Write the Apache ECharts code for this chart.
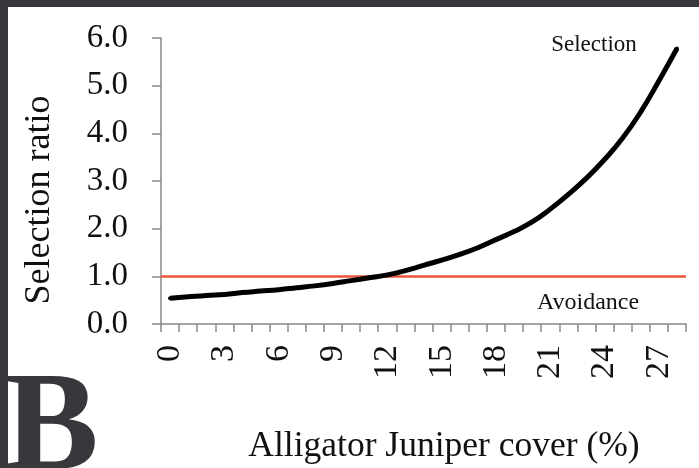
<!DOCTYPE html>
<html>
<head>
<meta charset="utf-8">
<script src="https://cdn.jsdelivr.net/npm/echarts@6/dist/echarts.min.js"></script>
<style>
  html, body { margin: 0; padding: 0; background: #ffffff; }
  #chart { width: 699px; height: 468px; }
</style>
</head>
<body>
<div id="chart"></div>
<script>
// Juniper cover categories (%), 0 to 28
const coverPct = ['0','1','2','3','4','5','6','7','8','9','10','11','12','13','14',
  '15','16','17','18','19','20','21','22','23','24','25','26','27','28'];
// Fitted selection ratio at each cover value
const selectionRatio = [0.54, 0.57, 0.60, 0.62, 0.66, 0.69, 0.72, 0.76, 0.80, 0.85,
  0.91, 0.97, 1.03, 1.12, 1.23, 1.34, 1.46, 1.60, 1.77, 1.94, 2.14, 2.41, 2.72,
  3.06, 3.45, 3.90, 4.45, 5.10, 5.78];
// Neutral selection threshold
const neutralRatio = 1.0;
const yTicks = [0, 1, 2, 3, 4, 5, 6];

const serif = '"Liberation Serif", "Times New Roman", serif';
const dark = '#38383c';
const axisGrey = '#8c8683';

const chart = echarts.init(document.getElementById('chart'));
chart.setOption({
  backgroundColor: '#ffffff',
  animation: false,
  grid: { left: 161, right: 13, top: 38, bottom: 144 },
  xAxis: {
    type: 'category',
    data: coverPct,
    boundaryGap: true,
    axisLine: { lineStyle: { color: axisGrey, width: 1.5 } },
    axisTick: { show: true, interval: 0, length: 8, lineStyle: { color: axisGrey, width: 1.5 } },
    axisLabel: {
      interval: 2, rotate: 90, margin: 21,
      fontFamily: serif, fontSize: 34, color: '#111'
    },
    splitLine: { show: false }
  },
  yAxis: {
    type: 'value',
    min: yTicks[0], max: yTicks[yTicks.length - 1], interval: 1,
    axisLine: { show: true, lineStyle: { color: axisGrey, width: 1.5 } },
    axisTick: { show: true, length: 9, lineStyle: { color: axisGrey, width: 1.5 } },
    axisLabel: {
      margin: 33, fontFamily: serif, fontSize: 33, color: '#111',
      formatter: v => v.toFixed(1)
    },
    splitLine: { show: false }
  },
  series: [{
    type: 'line',
    data: selectionRatio,
    smooth: true,
    symbol: 'circle',
    symbolSize: 4,
    itemStyle: { color: '#000' },
    lineStyle: { color: '#000', width: 5 },
    z: 3,
    markLine: {
      silent: true,
      symbol: ['none', 'none'],
      label: { show: false },
      lineStyle: { color: '#e8553a', width: 2.5, type: 'solid' },
      data: [{ yAxis: neutralRatio }],
      z: 2
    }
  }],
  graphic: [
    { type: 'rect', shape: { x: 0, y: 0, width: 699, height: 7 }, style: { fill: dark }, z: 10 },
    { type: 'rect', shape: { x: 0, y: 0, width: 8, height: 468 }, style: { fill: dark }, z: 10 },
    { type: 'text', x: 594, y: 45, z: 11,
      style: { text: 'Selection', font: '23px ' + serif, fill: '#111', textAlign: 'center', textVerticalAlign: 'middle' } },
    { type: 'text', x: 588, y: 303, z: 11,
      style: { text: 'Avoidance', font: '24px ' + serif, fill: '#111', textAlign: 'center', textVerticalAlign: 'middle' } },
    { type: 'text', x: 40, y: 200, rotation: Math.PI / 2, z: 11,
      style: { text: 'Selection ratio', font: '36px ' + serif, fill: '#111', textAlign: 'center', textVerticalAlign: 'middle' } },
    { type: 'text', x: 444, y: 447, z: 11,
      style: { text: 'Alligator Juniper cover (%)', font: '35.5px ' + serif, fill: '#111', textAlign: 'center', textVerticalAlign: 'middle' } },
    { type: 'text', x: 4, y: 503, z: 12,
      style: { text: 'B', font: 'bold 142px ' + serif, fill: dark, textAlign: 'left', textVerticalAlign: 'bottom' } }
  ]
});
</script>
</body>
</html>
